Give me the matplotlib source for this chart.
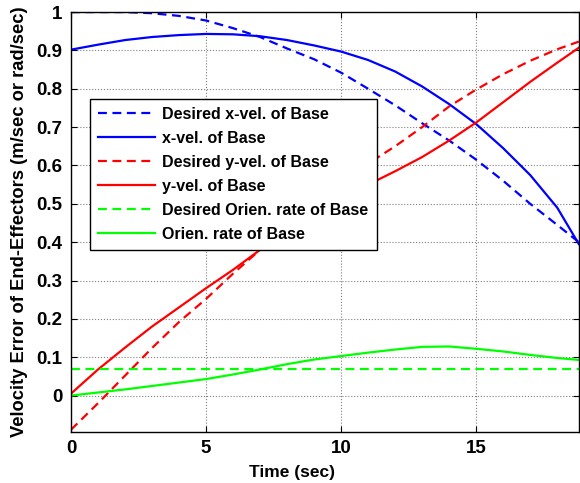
import matplotlib
matplotlib.use("Agg")
import matplotlib.pyplot as plt
from matplotlib.ticker import FuncFormatter

plt.rcParams["font.family"] = ["Liberation Sans", "DejaVu Sans"]
plt.rcParams["font.weight"] = "bold"

# time samples (sec)
t = [0, 1, 2, 3, 4, 5, 6, 7, 8, 9, 10, 11, 12, 13, 14, 15, 16, 17, 18, 18.8]

x_vel_des = [1.0, 1.0, 1.0, 0.997, 0.99, 0.978, 0.958, 0.935, 0.905, 0.877,
             0.842, 0.80, 0.757, 0.71, 0.665, 0.615, 0.56, 0.50, 0.445, 0.40]
x_vel = [0.902, 0.915, 0.927, 0.935, 0.94, 0.943, 0.942, 0.937, 0.927, 0.913,
         0.897, 0.875, 0.845, 0.806, 0.76, 0.708, 0.645, 0.575, 0.49, 0.395]
y_vel_des = [-0.089, -0.02, 0.052, 0.124, 0.192, 0.252, 0.318, 0.38, 0.44, 0.50,
             0.555, 0.605, 0.65, 0.70, 0.754, 0.798, 0.838, 0.873, 0.903, 0.923]
y_vel = [0.005, 0.068, 0.125, 0.18, 0.23, 0.28, 0.328, 0.38, 0.43, 0.475,
         0.515, 0.55, 0.585, 0.622, 0.665, 0.712, 0.765, 0.818, 0.868, 0.907]
orien_des = [0.068] * len(t)
orien = [0.0, 0.008, 0.016, 0.025, 0.034, 0.043, 0.055, 0.068, 0.082, 0.094,
         0.103, 0.112, 0.12, 0.127, 0.128, 0.122, 0.115, 0.106, 0.098, 0.093]

labels = ["Desired x-vel. of Base", "x-vel. of Base",
          "Desired y-vel. of Base", "y-vel. of Base",
          "Desired Orien. rate of Base", "Orien. rate of Base"]

fig = plt.figure(figsize=(5.8, 4.83), dpi=100)
ax = fig.add_axes([0.1224, 0.1056, 0.8756, 0.8694])

dash = (0, (4, 2.5))
lw = 1.6
ax.plot(t, x_vel_des, color=(0, 0, 1), ls=dash, lw=lw, label=labels[0])
ax.plot(t, x_vel, color=(0, 0, 1), lw=lw, label=labels[1])
ax.plot(t, y_vel_des, color=(1, 0, 0), ls=dash, lw=lw, label=labels[2])
ax.plot(t, y_vel, color=(1, 0, 0), lw=lw, label=labels[3])
ax.plot(t, orien_des, color=(0, 1, 0), ls=dash, lw=lw, label=labels[4])
ax.plot(t, orien, color=(0, 1, 0), lw=lw, label=labels[5])

ax.set_xlim(0, 18.8)
ax.set_ylim(-0.095, 1.0)
ax.set_xticks([0, 5, 10, 15])
ax.set_yticks([0, 0.1, 0.2, 0.3, 0.4, 0.5, 0.6, 0.7, 0.8, 0.9, 1.0])
ax.yaxis.set_major_formatter(FuncFormatter(lambda v, p: f"{v:g}"))
ax.tick_params(direction="in", top=True, right=True, length=4, width=0.8,
               labelsize=13.5, pad=6)
for lab in ax.get_xticklabels() + ax.get_yticklabels():
    lab.set_fontweight("bold")
ax.grid(True, color="0.5", linestyle=":", linewidth=0.8)
for sp in ax.spines.values():
    sp.set_linewidth(1.0)

ax.set_xlabel("Time (sec)", fontsize=12.5, fontweight="bold")
ax.xaxis.set_label_coords(0.435, -0.078)
ax.set_ylabel("Velocity Error of End-Effectors (m/sec or rad/sec)",
              fontsize=13.2, fontweight="bold")
ax.yaxis.set_label_coords(-0.085, 0.5)

leg = ax.legend(loc="upper left", bbox_to_anchor=(0.037, 0.793),
                borderaxespad=0, fancybox=False, framealpha=1,
                edgecolor="black", handlelength=3.6,
                handletextpad=0.45, labelspacing=0.56, borderpad=0.5,
                prop={"weight": "bold", "size": 11.5})
leg.get_frame().set_linewidth(1.0)

fig.savefig("out.png", dpi=100)
